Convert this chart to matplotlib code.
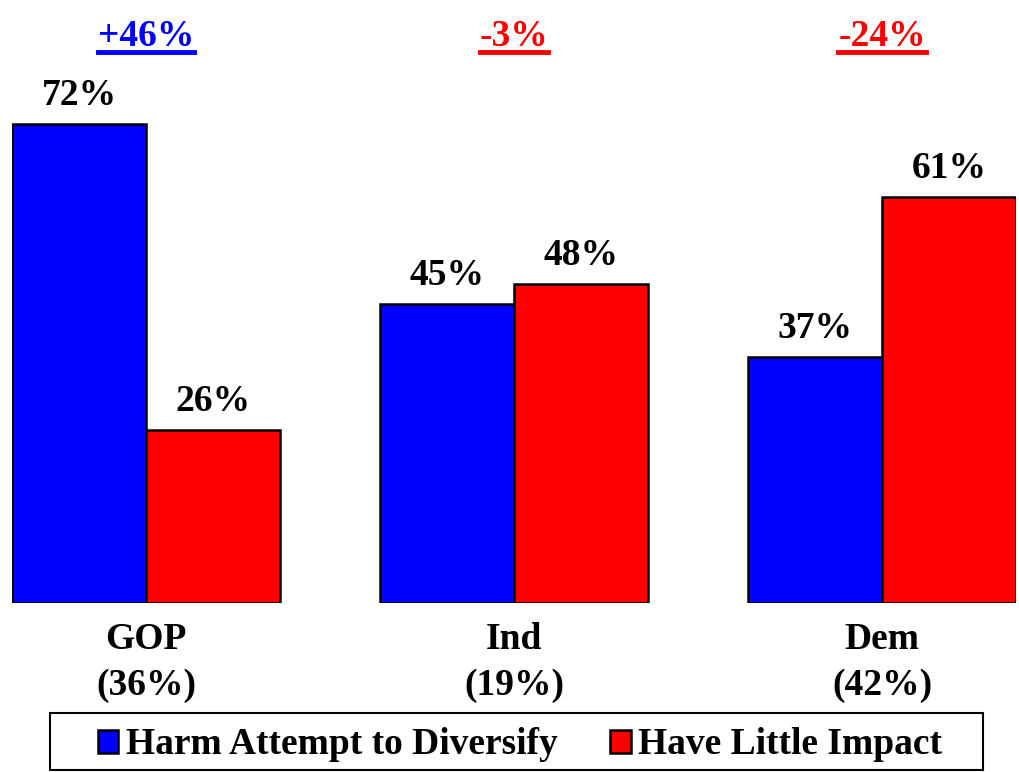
import numpy as np
import matplotlib
matplotlib.use("Agg")
import matplotlib.pyplot as plt
from matplotlib.lines import Line2D
from matplotlib.patches import Rectangle

# Data
groups = ["GOP\n(36%)", "Ind\n(19%)", "Dem\n(42%)"]
harm = [72, 45, 37]
little = [26, 48, 61]
diffs = ["+46%", "-3%", "-24%"]
diff_colors = ["#0000FF", "#FF0000", "#FF0000"]
series_names = ["Harm Attempt to Diversify", "Have Little Impact"]

plt.rcParams['font.family'] = ['Liberation Serif', 'DejaVu Serif']
plt.rcParams['font.weight'] = 'bold'

W, H = 1019, 772
fig = plt.figure(figsize=(W / 100, H / 100), dpi=100)

# axes placed by pixel: baseline at y=603, bars from x=12 to x=1016
px_per_unit = 6.65
ymax = 90
ax_h = ymax * px_per_unit
ax = fig.add_axes([12 / W, (H - 603) / H, (1016 - 12) / W, ax_h / H])

x = np.arange(len(groups))
width = 134 / 368

b1 = ax.bar(x - width / 2, harm, width, color="#0000FF", edgecolor="black", linewidth=1.8,
            label=series_names[0])
b2 = ax.bar(x + width / 2, little, width, color="#FF0000", edgecolor="black", linewidth=1.8,
            label=series_names[1])

ax.set_xlim(-width, 2 + width)
ax.set_ylim(0, ymax)
ax.axis("off")

for bars, vals in [(b1, harm), (b2, little)]:
    for rect, v in zip(bars, vals):
        ax.annotate(f"{v}%", (rect.get_x() + rect.get_width() / 2, v),
                    xytext=(0, 8), textcoords="offset points",
                    ha="center", va="bottom", fontsize=27, fontweight="bold")

# category labels below the bars
for xi, g in zip(x, groups):
    ax.annotate(g, (xi, 0), xytext=(0, -14), textcoords="offset points",
                ha="center", va="top", fontsize=27, fontweight="bold",
                linespacing=1.38, annotation_clip=False)

# underlined difference labels at top
fig.canvas.draw()
renderer = fig.canvas.get_renderer()
for xi, d, c in zip(x, diffs, diff_colors):
    xf = fig.transFigure.inverted().transform(ax.transData.transform((xi, 0)))[0]
    t = fig.text(xf, 1 - 36 / H, d, ha="center", va="center", fontsize=27,
                 fontweight="bold", color=c)
    bb = t.get_window_extent(renderer)
    yl = 1 - 52 / H
    fig.add_artist(Line2D([bb.x0 / W, bb.x1 / W], [yl, yl], color=c, linewidth=3.5,
                          transform=fig.transFigure))

# legend without its own frame, box drawn separately
leg = fig.legend(handles=[b1, b2], loc="center", bbox_to_anchor=(520 / W, 1 - 745 / H),
                 ncol=2, frameon=False,
                 handlelength=0.55, handleheight=0.55, handletextpad=0.2, columnspacing=1.4,
                 borderpad=0.3, borderaxespad=0, prop={'weight': 'bold', 'size': 27})
fig.add_artist(Rectangle((50 / W, 1 - 770 / H), (983 - 50) / W, (770 - 713) / H,
                         transform=fig.transFigure, fill=False, edgecolor="black",
                         linewidth=1.5))

fig.savefig("out.png", dpi=100)
